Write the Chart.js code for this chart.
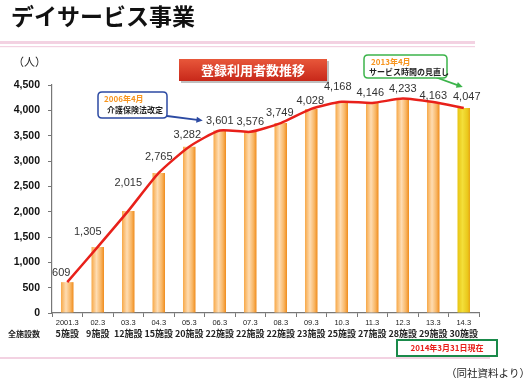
<!DOCTYPE html>
<html lang="ja">
<head>
<meta charset="utf-8">
<script src="https://cdn.jsdelivr.net/npm/chart.js@4"></script>
<style>
  html, body { margin: 0; padding: 0; background: #fff; }
  #wrap { width: 530px; height: 380px; position: relative; }
</style>
</head>
<body>
<div id="wrap"><canvas id="chart" width="530" height="380"></canvas></div>
<script>
// データ
const categories = ['2001.3', '02.3', '03.3', '04.3', '05.3', '06.3', '07.3', '08.3', '09.3', '10.3', '11.3', '12.3', '13.3', '14.3'];
const facilities = ['5施設', '9施設', '12施設', '15施設', '20施設', '22施設', '22施設', '22施設', '23施設', '25施設', '27施設', '28施設', '29施設', '30施設'];
const users = [609, 1305, 2015, 2765, 3282, 3601, 3576, 3749, 4028, 4168, 4146, 4233, 4163, 4047];
const yMax = 4500;
const yStep = 500;

// 数値ラベルのずらし量（線と重ならないように）
const labelShift = [[-6, -9], [-10, -15], [0, -28], [0, -16], [-2, -12], [0, -10], [0, -10], [-1, -10], [-1, -8], [-4, -15], [-2, -10], [0, -10], [0, -6], [3, -11]];

const JP = '"Noto Sans CJK JP", sans-serif';
const NUM = '"Liberation Sans", Arial, sans-serif';
const BAR_PCT = 0.41;

// 棒のグラデーション
function barFill(ctx) {
    const chart = ctx.chart;
    const xs = chart.scales.x;
    if (!chart.chartArea || !xs) return '#f6a23c';
    const cx = xs.getPixelForValue(ctx.dataIndex);
    const half = xs.width / categories.length * BAR_PCT / 2;
    const g = chart.ctx.createLinearGradient(cx - half, 0, cx + half, 0);
    if (ctx.dataIndex === users.length - 1) {
        g.addColorStop(0, '#e8c412');
        g.addColorStop(0.4, '#f3df3a');
        g.addColorStop(0.8, '#eac81c');
        g.addColorStop(1, '#e8a414');
    } else {
        g.addColorStop(0, '#f7a847');
        g.addColorStop(0.4, '#fedcb2');
        g.addColorStop(0.75, '#f8b665');
        g.addColorStop(1, '#f08c1c');
    }
    return g;
}

function roundBox(c, x, y, w, h, r) {
    c.beginPath();
    c.moveTo(x + r, y);
    c.lineTo(x + w - r, y);
    c.quadraticCurveTo(x + w, y, x + w, y + r);
    c.lineTo(x + w, y + h - r);
    c.quadraticCurveTo(x + w, y + h, x + w - r, y + h);
    c.lineTo(x + r, y + h);
    c.quadraticCurveTo(x, y + h, x, y + h - r);
    c.lineTo(x, y + r);
    c.quadraticCurveTo(x, y, x + r, y);
    c.closePath();
}

function arrow(c, x1, y1, x2, y2, color) {
    c.save();
    c.strokeStyle = color;
    c.fillStyle = color;
    c.lineWidth = 1.8;
    const a = Math.atan2(y2 - y1, x2 - x1);
    const hl = 7;
    c.beginPath();
    c.moveTo(x1, y1);
    c.lineTo(x2 - Math.cos(a) * hl * 0.8, y2 - Math.sin(a) * hl * 0.8);
    c.stroke();
    c.beginPath();
    c.moveTo(x2, y2);
    c.lineTo(x2 - hl * Math.cos(a - 0.45), y2 - hl * Math.sin(a - 0.45));
    c.lineTo(x2 - hl * Math.cos(a + 0.45), y2 - hl * Math.sin(a + 0.45));
    c.closePath();
    c.fill();
    c.restore();
}

// 装飾・注記の描画
const decorPlugin = {
    id: 'decor',
    beforeDraw(chart) {
        const c = chart.ctx;
        c.save();
        // ピンクの罫線
        c.fillStyle = '#f3d2e2';
        c.fillRect(0, 41, 475, 3);
        c.fillRect(0, 46, 475, 1.2);
        c.fillRect(0, 357, 490, 2);
        c.restore();
    },
    afterDatasetsDraw(chart) {
        const c = chart.ctx;
        const pts = chart.getDatasetMeta(0).data;
        const xs = chart.scales.x;
        c.save();

        // 数値ラベル
        c.fillStyle = '#333';
        c.font = '11px ' + NUM;
        c.textAlign = 'center';
        c.textBaseline = 'middle';
        users.forEach((v, i) => {
            const p = pts[i];
            const [dx, dy] = labelShift[i];
            c.fillText(v.toLocaleString('en-US'), p.x + dx, p.y + dy);
        });

        // タイトル
        c.fillStyle = '#111';
        c.textAlign = 'left';
        c.font = 'bold 23px ' + JP;
        c.fillText('デイサービス事業', 11, 16);

        // 単位
        c.font = '11px ' + JP;
        c.fillStyle = '#222';
        c.fillText('（人）', 13, 62);

        // 赤いバナー
        c.fillStyle = 'rgba(0,0,0,0.25)';
        c.fillRect(181, 61, 148, 22);
        const bg = c.createLinearGradient(0, 59, 0, 81);
        bg.addColorStop(0, '#e8573a');
        bg.addColorStop(1, '#c8281a');
        c.fillStyle = bg;
        c.fillRect(179, 59, 148, 22);
        c.fillStyle = '#fff';
        c.textAlign = 'center';
        c.font = 'bold 13px ' + JP;
        c.fillText('登録利用者数推移', 253, 70);

        // x軸ラベル
        categories.forEach((cat, i) => {
            const x = xs.getPixelForValue(i);
            c.fillStyle = '#222';
            c.font = '7.5px ' + NUM;
            c.fillText(cat, x, 323);
            c.font = 'bold 9px ' + JP;
            c.fillText(facilities[i], x, 334);
        });
        c.textAlign = 'left';
        c.font = 'bold 8px ' + JP;
        c.fillText('全施設数', 8, 334);

        // 注記 2006年4月
        const p5 = pts[5];
        arrow(c, 167, 116, p5.x - 17, p5.y - 10, '#2c4aa3');
        roundBox(c, 98, 92, 69, 26, 4);
        c.fillStyle = '#fff';
        c.fill();
        c.strokeStyle = '#2c4aa3';
        c.lineWidth = 1.5;
        c.stroke();
        c.font = 'bold 8px ' + JP;
        c.fillStyle = '#f7941d';
        c.fillText('2006年4月', 104, 99);
        c.fillStyle = '#222';
        c.fillText('介護保険法改定', 107, 110);

        // 注記 2013年4月
        const p13 = pts[13];
        arrow(c, 435, 77, p13.x - 1, p13.y - 21, '#3cb44b');
        roundBox(c, 364, 55, 83, 23, 4);
        c.fillStyle = '#fff';
        c.fill();
        c.strokeStyle = '#3cb44b';
        c.lineWidth = 1.5;
        c.stroke();
        c.fillStyle = '#f7941d';
        c.fillText('2013年4月', 371, 62);
        c.fillStyle = '#222';
        c.fillText('サービス時間の見直し', 369, 72);

        // 現在日付の枠
        c.fillStyle = '#fff';
        c.fillRect(397, 340, 100, 16);
        c.strokeStyle = '#1a8a4a';
        c.lineWidth = 2;
        c.strokeRect(397, 340, 100, 16);
        c.fillStyle = '#e8201a';
        c.textAlign = 'center';
        c.font = 'bold 8px ' + JP;
        c.fillText('2014年3月31日現在', 447, 348);

        // 出典
        c.fillStyle = '#222';
        c.font = '10.5px ' + JP;
        c.textAlign = 'right';
        c.fillText('（同社資料より）', 530, 373);

        c.restore();
    }
};

function initializeChart() {
    const ctx = document.getElementById('chart').getContext('2d');
    new Chart(ctx, {
        data: {
            labels: categories,
            datasets: [{
                type: 'line',
                label: '登録利用者数',
                data: users,
                borderColor: '#e8201a',
                borderWidth: 2.5,
                pointRadius: 0,
                tension: 0.2,
                fill: false
            }, {
                type: 'bar',
                label: '登録利用者数',
                data: users,
                backgroundColor: barFill,
                barPercentage: BAR_PCT,
                categoryPercentage: 1
            }]
        },
        options: {
            responsive: false,
            animation: false,
            layout: { padding: { top: 85, right: 51, bottom: 0, left: 0 } },
            plugins: {
                legend: { display: false },
                tooltip: { enabled: false }
            },
            scales: {
                x: {
                    offset: true,
                    grid: {
                        offset: true,
                        drawOnChartArea: false,
                        tickLength: 4,
                        color: '#777'
                    },
                    border: { color: '#777', width: 1.2 },
                    ticks: { display: false },
                    afterFit: s => { s.height = 67; }
                },
                y: {
                    min: 0,
                    max: yMax,
                    grid: {
                        drawOnChartArea: false,
                        tickLength: 4,
                        color: '#777'
                    },
                    border: { color: '#777', width: 1.2 },
                    ticks: {
                        stepSize: yStep,
                        padding: 8,
                        color: '#111',
                        font: { family: NUM, size: 10.5, weight: 'bold' },
                        callback: v => v.toLocaleString('en-US')
                    },
                    afterFit: s => { s.width = 52; }
                }
            }
        },
        plugins: [decorPlugin]
    });
}

document.addEventListener('DOMContentLoaded', () => {
    initializeChart();
});
</script>
</body>
</html>
